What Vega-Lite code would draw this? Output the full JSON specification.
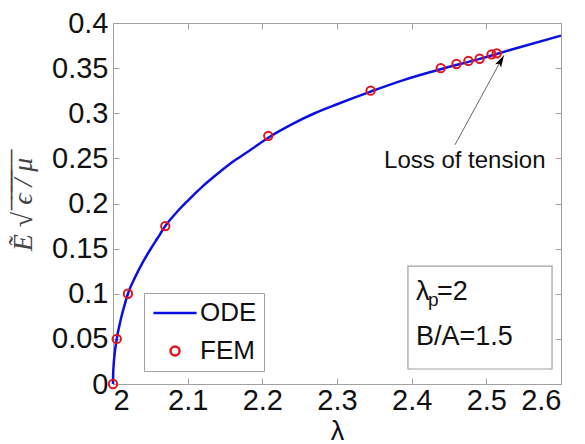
{
  "$schema": "https://vega.github.io/schema/vega-lite/v6.json",
  "width": 448,
  "height": 361,
  "autosize": {"type": "none"},
  "padding": {"left": 113, "top": 23, "right": 24, "bottom": 60},
  "background": "white",
  "config": {"view": {"stroke": null}, "font": "Liberation Sans"},
  "datasets": {
    "ode": [
      {"lam": 2.0, "E": 0, "series": "ODE"},
      {"lam": 2.0002, "E": 0.010, "series": "ODE"},
      {"lam": 2.001, "E": 0.023, "series": "ODE"},
      {"lam": 2.002, "E": 0.032, "series": "ODE"},
      {"lam": 2.005, "E": 0.05, "series": "ODE"},
      {"lam": 2.01, "E": 0.07, "series": "ODE"},
      {"lam": 2.015, "E": 0.086, "series": "ODE"},
      {"lam": 2.02, "E": 0.1, "series": "ODE"},
      {"lam": 2.03, "E": 0.119, "series": "ODE"},
      {"lam": 2.04, "E": 0.135, "series": "ODE"},
      {"lam": 2.05, "E": 0.149, "series": "ODE"},
      {"lam": 2.06, "E": 0.162, "series": "ODE"},
      {"lam": 2.07, "E": 0.175, "series": "ODE"},
      {"lam": 2.085, "E": 0.190, "series": "ODE"},
      {"lam": 2.1, "E": 0.203, "series": "ODE"},
      {"lam": 2.12, "E": 0.219, "series": "ODE"},
      {"lam": 2.14, "E": 0.233, "series": "ODE"},
      {"lam": 2.16, "E": 0.246, "series": "ODE"},
      {"lam": 2.18, "E": 0.257, "series": "ODE"},
      {"lam": 2.21, "E": 0.274, "series": "ODE"},
      {"lam": 2.24, "E": 0.288, "series": "ODE"},
      {"lam": 2.27, "E": 0.300, "series": "ODE"},
      {"lam": 2.3, "E": 0.310, "series": "ODE"},
      {"lam": 2.345, "E": 0.324, "series": "ODE"},
      {"lam": 2.39, "E": 0.337, "series": "ODE"},
      {"lam": 2.44, "E": 0.349, "series": "ODE"},
      {"lam": 2.49, "E": 0.360, "series": "ODE"},
      {"lam": 2.54, "E": 0.372, "series": "ODE"},
      {"lam": 2.6, "E": 0.386, "series": "ODE"}
    ],
    "fem": [
      {"lam": 2.0, "E": 0.0, "series": "FEM"},
      {"lam": 2.005, "E": 0.05, "series": "FEM"},
      {"lam": 2.02, "E": 0.1, "series": "FEM"},
      {"lam": 2.07, "E": 0.175, "series": "FEM"},
      {"lam": 2.208, "E": 0.275, "series": "FEM"},
      {"lam": 2.345, "E": 0.325, "series": "FEM"},
      {"lam": 2.439, "E": 0.350, "series": "FEM"},
      {"lam": 2.46, "E": 0.3546, "series": "FEM"},
      {"lam": 2.476, "E": 0.358, "series": "FEM"},
      {"lam": 2.491, "E": 0.3604, "series": "FEM"},
      {"lam": 2.507, "E": 0.3653, "series": "FEM"},
      {"lam": 2.514, "E": 0.3664, "series": "FEM"}
    ],
    "box": [{"x1": 2.395, "x2": 2.588, "y1": 0.0166, "y2": 0.1307}],
    "arrow": [{"x1": 2.458, "y1": 0.265, "x2": 2.518, "y2": 0.356}],
    "head": [{"x": 2.5198, "y": 0.3585}],
    "note": [{"x": 2.363, "y": 0.2393, "label": "Loss of tension"}],
    "params": [
      {"x": 2.4058, "y": 0.0931, "label": "λ"},
      {"x": 2.434, "y": 0.0931, "label": "=2"},
      {"x": 2.4058, "y": 0.0432, "label": "B/A=1.5"}
    ],
    "sub": [{"x": 2.4219, "y": 0.0864, "label": "p"}]
  },
  "layer": [
    {
      "data": {"name": "box"},
      "mark": {"type": "rect", "fill": "white", "stroke": "#a0a0a0", "strokeWidth": 1.2},
      "encoding": {
        "x": {"field": "x1", "type": "quantitative", "axis": null},
        "x2": {"field": "x2"},
        "y": {"field": "y1", "type": "quantitative", "axis": null},
        "y2": {"field": "y2"}
      }
    },
    {
      "data": {"name": "params"},
      "mark": {"type": "text", "align": "left", "baseline": "alphabetic", "fontSize": 27, "color": "#111"},
      "encoding": {
        "x": {"field": "x", "type": "quantitative", "axis": null},
        "y": {"field": "y", "type": "quantitative", "axis": null},
        "text": {"field": "label"}
      }
    },
    {
      "data": {"name": "sub"},
      "mark": {"type": "text", "align": "left", "baseline": "alphabetic", "fontSize": 19, "color": "#111"},
      "encoding": {
        "x": {"field": "x", "type": "quantitative", "axis": null},
        "y": {"field": "y", "type": "quantitative", "axis": null},
        "text": {"field": "label"}
      }
    },
    {
      "data": {"name": "note"},
      "mark": {"type": "text", "align": "left", "baseline": "alphabetic", "fontSize": 24, "color": "#111"},
      "encoding": {
        "x": {"field": "x", "type": "quantitative", "axis": null},
        "y": {"field": "y", "type": "quantitative", "axis": null},
        "text": {"field": "label"}
      }
    },
    {
      "data": {"name": "ode"},
      "mark": {"type": "line", "strokeWidth": 2.5, "interpolate": "monotone"},
      "encoding": {
        "x": {
          "field": "lam", "type": "quantitative",
          "scale": {"domain": [2, 2.6], "nice": false, "zero": false},
          "axis": {
            "orient": "bottom", "values": [2, 2.1, 2.2, 2.3, 2.4, 2.5, 2.6], "format": "~g",
            "grid": false, "domainColor": "#a0a0a0", "tickColor": "#a0a0a0", "tickSize": -6,
            "labelPadding": 8, "labelFontSize": 29, "labelColor": "#111", "labelFont": "Liberation Sans",
            "title": "λ", "titleFontSize": 27, "titleFontWeight": "normal", "titleColor": "#111",
            "titleFont": "Liberation Sans", "titleY": 55, "titleBaseline": "alphabetic"
          }
        },
        "y": {
          "field": "E", "type": "quantitative",
          "scale": {"domain": [0, 0.4], "nice": false},
          "axis": {
            "orient": "left", "values": [0, 0.05, 0.1, 0.15, 0.2, 0.25, 0.3, 0.35, 0.4], "format": "~g",
            "grid": false, "domainColor": "#a0a0a0", "tickColor": "#a0a0a0", "tickSize": -6,
            "labelPadding": 11, "labelFontSize": 29, "labelColor": "#111", "labelFont": "Liberation Sans",
            "title": "Ẽ √ ̅ϵ̅ ̅/̅ ̅μ̅", "titleFont": "Liberation Serif", "titleFontStyle": "italic",
            "titleFontWeight": "normal", "titleFontSize": 28, "titleColor": "#444",
            "titleX": -90, "titleY": 181, "titleAngle": -90, "titleBaseline": "middle", "titleAlign": "center"
          }
        },
        "color": {
          "field": "series", "type": "nominal",
          "scale": {"domain": ["ODE", "FEM"], "range": ["#0b10e0", "#e3141c"]},
          "legend": {
            "orient": "none", "legendX": 31, "legendY": 270, "title": null,
            "fillColor": "white", "strokeColor": "#a0a0a0", "padding": 7,
            "labelFontSize": 26, "labelFont": "Liberation Sans", "labelColor": "#111",
            "symbolSize": 81, "symbolStrokeWidth": 2.5, "symbolOffset": 11, "labelOffset": 12,
            "rowPadding": 12
          }
        }
      }
    },
    {
      "data": {"name": "fem"},
      "mark": {"type": "point", "filled": false, "strokeWidth": 2, "size": 70, "opacity": 1},
      "encoding": {
        "x": {
          "field": "lam", "type": "quantitative",
          "axis": {
            "orient": "top", "values": [2, 2.1, 2.2, 2.3, 2.4, 2.5, 2.6], "labels": false,
            "grid": false, "domainColor": "#a0a0a0", "tickColor": "#a0a0a0", "tickSize": -6, "title": null
          }
        },
        "y": {
          "field": "E", "type": "quantitative",
          "axis": {
            "orient": "right", "values": [0, 0.05, 0.1, 0.15, 0.2, 0.25, 0.3, 0.35, 0.4], "labels": false,
            "grid": false, "domainColor": "#a0a0a0", "tickColor": "#a0a0a0", "tickSize": -6, "title": null
          }
        },
        "color": {"field": "series", "type": "nominal"},
        "shape": {
          "field": "series", "type": "nominal",
          "scale": {"domain": ["ODE", "FEM"], "range": ["M-4.8,0H4.8", "circle"]},
          "legend": {
            "orient": "none", "legendX": 31, "legendY": 270, "title": null,
            "fillColor": "white", "strokeColor": "#a0a0a0", "padding": 7,
            "labelFontSize": 26, "labelFont": "Liberation Sans", "labelColor": "#111",
            "symbolSize": 81, "symbolStrokeWidth": 2.5, "symbolOffset": 11, "labelOffset": 12,
            "rowPadding": 12
          }
        }
      }
    },
    {
      "data": {"name": "arrow"},
      "mark": {"type": "rule", "color": "#666", "strokeWidth": 1},
      "encoding": {
        "x": {"field": "x1", "type": "quantitative", "axis": null},
        "y": {"field": "y1", "type": "quantitative", "axis": null},
        "x2": {"field": "x2"},
        "y2": {"field": "y2"}
      }
    },
    {
      "data": {"name": "head"},
      "mark": {"type": "point", "shape": "M0,-1L0.55,1L0,0.6L-0.55,1Z", "filled": true, "color": "#000", "size": 150, "angle": 29, "opacity": 1},
      "encoding": {
        "x": {"field": "x", "type": "quantitative", "axis": null},
        "y": {"field": "y", "type": "quantitative", "axis": null}
      }
    }
  ],
  "resolve": {"axis": {"x": "independent", "y": "independent"}}
}
